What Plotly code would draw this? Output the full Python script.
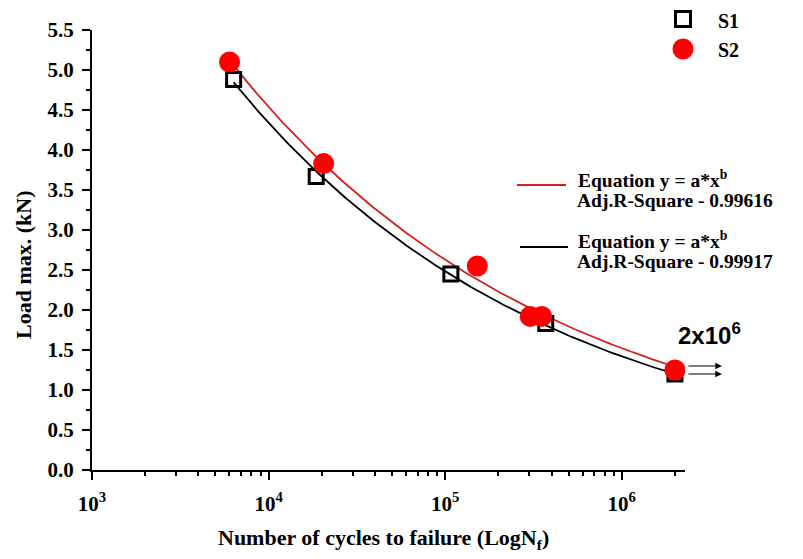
import numpy as np
import plotly.graph_objects as go

# ---------------- data ----------------
s1_cycles = [6340, 18600, 107700, 371000, 2000000]
s1_load = [4.88, 3.67, 2.45, 1.83, 1.20]

s2_cycles = [6010, 20500, 152000, 303000, 352000, 2000000]
s2_load = [5.10, 3.83, 2.55, 1.92, 1.92, 1.25]

s1_r2_text = "0.99917"
s2_r2_text = "0.99616"

x_tick_vals = [1e3, 1e4, 1e5, 1e6]
x_tick_text = ["10<sup>3</sup>", "10<sup>4</sup>", "10<sup>5</sup>", "10<sup>6</sup>"]
runout_label = "2x10<sup>6</sup>"

# ---------------- power-law fit y = a*x^b ----------------
def power_fit(x, y):
    x = np.asarray(x, float)
    y = np.asarray(y, float)
    b, loga = np.polyfit(np.log(x), np.log(y), 1)
    a = np.exp(loga)
    for _ in range(60):
        f = a * x ** b
        J = np.column_stack([x ** b, a * x ** b * np.log(x)])
        r = y - f
        d, *_ = np.linalg.lstsq(J, r, rcond=None)
        a += d[0]
        b += d[1]
    return a, b


def fit_curve(x, y):
    a, b = power_fit(x, y)
    xs = np.logspace(np.log10(min(x)), np.log10(max(x)), 200)
    return xs, a * xs ** b


SERIF = "Liberation Serif"
SANS = "Liberation Sans"

# page geometry (pixels in the 803x559 window); the page body has an 8px margin
OFF = 8
L, R, T, B = 92, 685, 30, 470
W, H = 803 - OFF, 559 - OFF


def px(xp):
    return (xp - L) / (R - L)


def py(yp):
    return (B - yp) / (B - T)


fig = go.Figure()

x1f, y1f = fit_curve(s1_cycles, s1_load)
x2f, y2f = fit_curve(s2_cycles, s2_load)

fig.add_trace(go.Scatter(x=x1f, y=y1f, mode="lines",
                         line=dict(color="black", width=1.8),
                         showlegend=False, hoverinfo="skip"))
fig.add_trace(go.Scatter(x=x2f, y=y2f, mode="lines",
                         line=dict(color="#d42020", width=1.8),
                         showlegend=False, hoverinfo="skip"))
fig.add_trace(go.Scatter(x=s1_cycles, y=s1_load, mode="markers", name="S1",
                         marker=dict(symbol="square-open", size=14, color="black",
                                     line=dict(width=3, color="black")),
                         showlegend=False))
fig.add_trace(go.Scatter(x=s2_cycles, y=s2_load, mode="markers", name="S2",
                         marker=dict(symbol="circle", size=21, color="#ff0000",
                                     line=dict(width=0)),
                         showlegend=False))

shapes = []
annotations = []

# manual legend: S1 / S2
shapes.append(dict(type="rect", xref="paper", yref="paper",
                   xsizemode="pixel", ysizemode="pixel",
                   xanchor=px(683), yanchor=py(19),
                   x0=-7.5, x1=7.5, y0=-7.5, y1=7.5,
                   line=dict(color="black", width=3), fillcolor="rgba(0,0,0,0)"))
shapes.append(dict(type="circle", xref="paper", yref="paper",
                   xsizemode="pixel", ysizemode="pixel",
                   xanchor=px(683), yanchor=py(49),
                   x0=-10.5, x1=10.5, y0=-10.5, y1=10.5,
                   line=dict(color="#ff0000", width=0), fillcolor="#ff0000"))
for name, yy in (("S1", 21), ("S2", 50)):
    annotations.append(dict(text=f"<b>{name}</b>", xref="paper", yref="paper",
                            x=px(716), y=py(yy), xanchor="left", yanchor="middle",
                            showarrow=False, font=dict(family=SERIF, size=20, color="black")))

# fit legend keys
shapes.append(dict(type="line", xref="paper", yref="paper",
                   x0=px(517), x1=px(566), y0=py(185), y1=py(185),
                   line=dict(color="#d42020", width=2)))
shapes.append(dict(type="line", xref="paper", yref="paper",
                   x0=px(520), x1=px(568), y0=py(247), y1=py(247),
                   line=dict(color="black", width=2)))
for r2, y_top in ((s2_r2_text, 182), (s1_r2_text, 243)):
    annotations.append(dict(text="<b>Equation y = a*x<sup>b</sup></b>", xref="paper", yref="paper",
                            x=px(576), y=py(y_top - 3), xanchor="left", yanchor="middle",
                            showarrow=False, font=dict(family=SERIF, size=19.5, color="black")))
    annotations.append(dict(text=f"<b>Adj.R-Square - {r2}</b>", xref="paper", yref="paper",
                            x=px(575), y=py(y_top + 18), xanchor="left", yanchor="middle",
                            showarrow=False, font=dict(family=SERIF, size=19.5, color="black")))

# run-out label and arrows
annotations.append(dict(text=f"<b>{runout_label}</b>", xref="paper", yref="paper",
                        x=px(709), y=py(334), xanchor="center", yanchor="middle",
                        showarrow=False, font=dict(family=SANS, size=24, color="black")))
for yshift in (4, -4):
    annotations.append(dict(text="", x=np.log10(s2_cycles[-1]), y=s2_load[-1],
                            xref="x", yref="y", xshift=47, yshift=yshift,
                            showarrow=True, arrowhead=2, arrowsize=1.1, arrowwidth=1.2,
                            arrowcolor="black", ax=-35, ay=0))

# axis titles
annotations.append(dict(text="<b>Number of cycles to failure (LogN<sub>f</sub>)</b>",
                        xref="paper", yref="paper", x=px(383), y=py(539),
                        xanchor="center", yanchor="middle", showarrow=False,
                        font=dict(family=SERIF, size=22, color="black")))
annotations.append(dict(text="<b>Load max. (kN)</b>", textangle=-90,
                        xref="paper", yref="paper", x=px(23), y=py(265),
                        xanchor="center", yanchor="middle", showarrow=False,
                        font=dict(family=SERIF, size=22, color="black")))

fig.update_layout(
    width=W, height=H,
    margin=dict(l=L - OFF, r=(W + OFF) - R, t=T - OFF, b=(H + OFF) - B, autoexpand=False),
    paper_bgcolor="white", plot_bgcolor="white",
    showlegend=False,
    shapes=shapes, annotations=annotations,
    font=dict(family=SERIF, color="black"),
)

fig.update_xaxes(
    type="log", range=[3, 6.358], automargin=False,
    tickvals=x_tick_vals, ticktext=[f"<b>{t}</b>" for t in x_tick_text],
    tickfont=dict(family=SERIF, size=21, color="black", weight="bold"),
    ticks="outside", ticklen=8, tickwidth=1.5, tickcolor="black",
    ticklabelstandoff=6,
    minor=dict(ticks="outside", ticklen=4, tickwidth=1.5, tickcolor="black",
               tickvals=[m * 10 ** e for e in (3, 4, 5) for m in range(2, 10)] + [2e6]),
    showline=True, linecolor="black", linewidth=2,
    showgrid=False, zeroline=False,
)
fig.update_yaxes(
    range=[0, 5.5], dtick=0.5, tick0=0, tickformat=".1f", automargin=False,
    tickfont=dict(family=SERIF, size=21, color="black", weight="bold"),
    ticks="outside", ticklen=8, tickwidth=1.5, tickcolor="black",
    ticklabelstandoff=4,
    minor=dict(ticks="outside", ticklen=4, tickwidth=1.5, tickcolor="black", dtick=0.25),
    showline=True, linecolor="black", linewidth=2,
    showgrid=False, zeroline=False,
)

fig.write_html("out.html")
